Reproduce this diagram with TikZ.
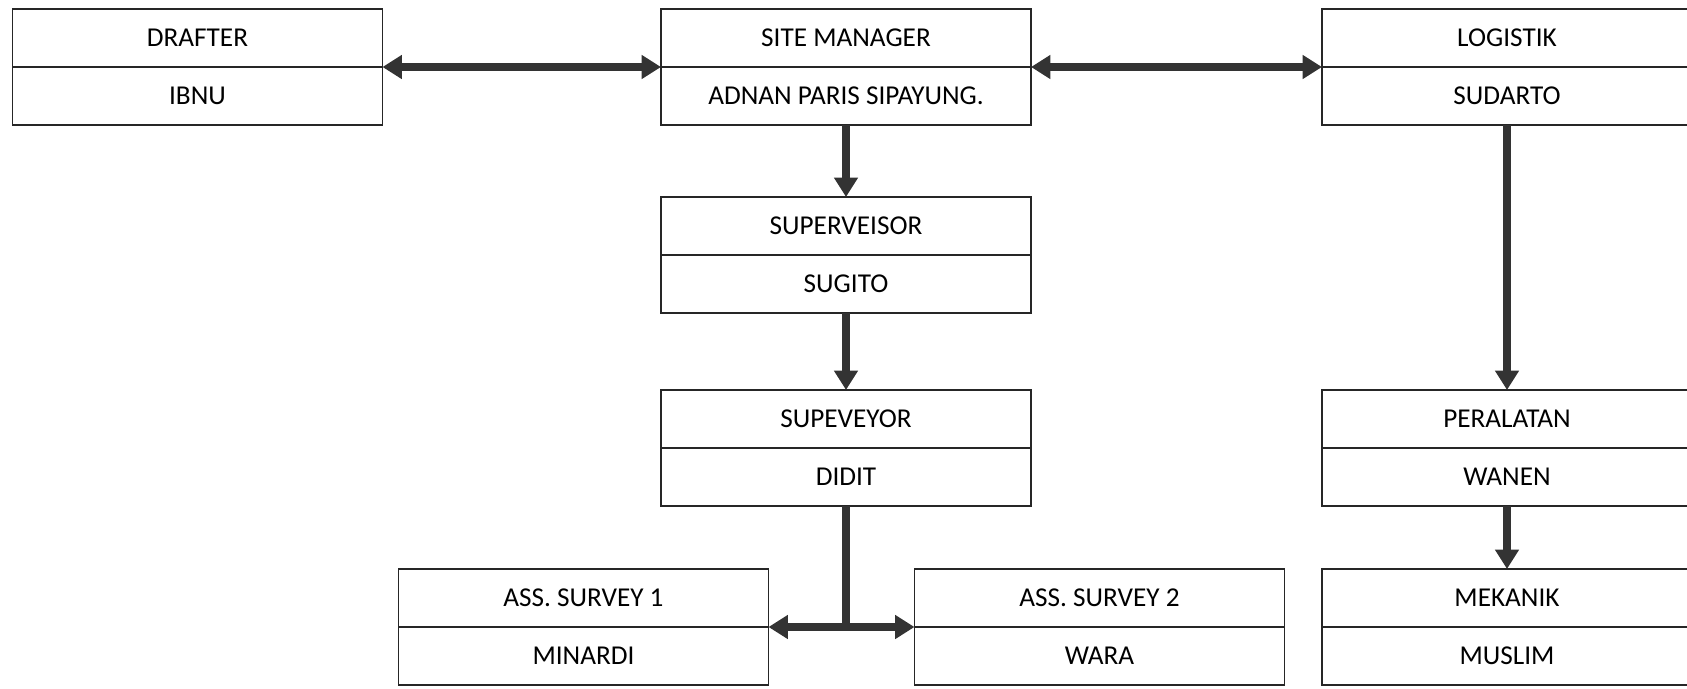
\documentclass[tikz,border=0pt]{standalone}
\usepackage{fontspec}
\setmainfont{Carlito}
\usepackage{tikz}
\usetikzlibrary{arrows.meta,positioning}
\tikzset{
  jobbox/.style={draw=black!85, line width=0.8pt, minimum width=7.4cm, minimum height=1.16cm, inner sep=2pt, outer sep=0pt, font=\fontsize{15.5}{18}\selectfont},
  namebox/.style={jobbox},
  orgarrow/.style={-{Triangle[length=11pt,width=13pt]}, line width=4.5pt, draw=black!80},
  orgboth/.style={{Triangle[length=11pt,width=13pt]}-{Triangle[length=11pt,width=13pt]}, line width=4.5pt, draw=black!80},
  orgline/.style={line width=4.5pt, draw=black!80}
}

\begin{document}
\begin{tikzpicture}
\clip (0,0) rectangle (33.74,-13.76);
\node[jobbox, above] (drafter) at (3.95,-1.34) {DRAFTER};
\node[namebox, below=0pt of drafter] (drafterName) {IBNU};
\node[jobbox, above] (siteMgr) at (16.92,-1.34) {SITE MANAGER};
\node[namebox, below=0pt of siteMgr] (siteMgrName) {ADNAN PARIS SIPAYUNG.};
\node[jobbox, above] (logistik) at (30.14,-1.34) {LOGISTIK};
\node[namebox, below=0pt of logistik] (logistikName) {SUDARTO};
\node[jobbox, above] (supervisor) at (16.92,-5.10) {SUPERVEISOR};
\node[namebox, below=0pt of supervisor] (supervisorName) {SUGITO};
\node[jobbox, above] (surveyor) at (16.92,-8.96) {SUPEVEYOR};
\node[namebox, below=0pt of surveyor] (surveyorName) {DIDIT};
\node[jobbox, above] (peralatan) at (30.14,-8.96) {PERALATAN};
\node[namebox, below=0pt of peralatan] (peralatanName) {WANEN};
\node[jobbox, above] (assOne) at (11.67,-12.54) {ASS. SURVEY 1};
\node[namebox, below=0pt of assOne] (assOneName) {MINARDI};
\node[jobbox, above] (assTwo) at (21.99,-12.54) {ASS. SURVEY 2};
\node[namebox, below=0pt of assTwo] (assTwoName) {WARA};
\node[jobbox, above] (mekanik) at (30.14,-12.54) {MEKANIK};
\node[namebox, below=0pt of mekanik] (mekanikName) {MUSLIM};
\draw[orgboth] (drafter.south east) -- (siteMgr.south west);
\draw[orgboth] (siteMgr.south east) -- (logistik.south west);
\draw[orgarrow] (siteMgrName) -- (supervisor);
\draw[orgarrow] (supervisorName) -- (surveyor);
\draw[orgarrow] (logistikName) -- (peralatan);
\draw[orgarrow] (peralatanName) -- (mekanik);
\coordinate (fork) at (surveyorName.south |- assOne.south);
\draw[orgline] (surveyorName.south) -- (fork);
\draw[orgboth] (assOne.south east) -- (assTwo.south west);
\end{tikzpicture}
\end{document}
